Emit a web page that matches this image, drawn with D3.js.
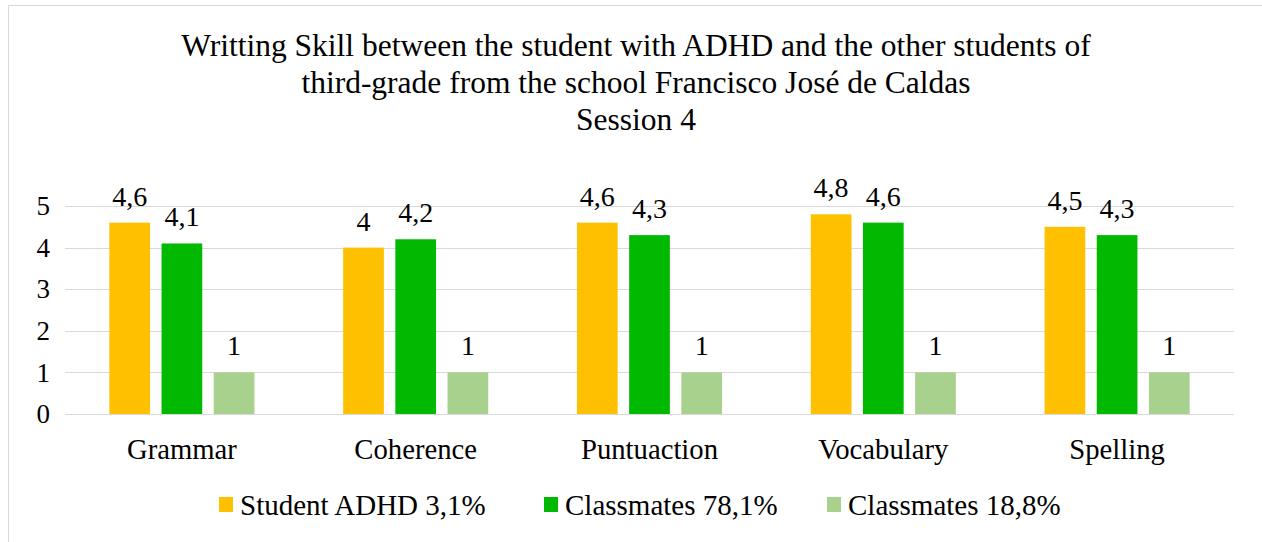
<!DOCTYPE html>
<html>
<head>
<meta charset="utf-8">
<script src="https://cdn.jsdelivr.net/npm/d3@7"></script>
<style>
  html, body { margin: 0; padding: 0; background: #fff; }
  svg { display: block; }
</style>
</head>
<body>
<svg id="chart" width="1262" height="542"></svg>
<script>
const titleLines = [
  "Writting Skill between the student with ADHD and the other students of",
  "third-grade from the school Francisco José de Caldas",
  "Session 4"
];
const categories = ["Grammar", "Coherence", "Puntuaction", "Vocabulary", "Spelling"];
const seriesNames = ["Student ADHD 3,1%", "Classmates 78,1%", "Classmates 18,8%"];
const seriesColors = ["#FFC000", "#00B900", "#A9D18E"];
const studentADHD = [4.6, 4, 4.6, 4.8, 4.5];
const classmates781 = [4.1, 4.2, 4.3, 4.6, 4.3];
const classmates188 = [1, 1, 1, 1, 1];
const yTicks = [0, 1, 2, 3, 4, 5];

const series = [studentADHD, classmates781, classmates188];
const fmt = v => String(v).replace(".", ",");
const FONT = '"Liberation Serif"';

const svg = d3.select("#chart");

// chart border
svg.append("rect").attr("x", 8.5).attr("y", 5.5).attr("width", 1400).attr("height", 700)
  .attr("fill", "none").attr("stroke", "#d9d9d9").attr("stroke-width", 1);

// title
svg.append("g").selectAll("text").data(titleLines).join("text")
  .attr("x", 636).attr("y", (d, i) => 56 + i * 37)
  .attr("text-anchor", "middle").attr("font-size", 31.5).style("font-family", FONT).attr("fill", "#000")
  .text(d => d);

const x0 = d3.scaleBand().domain(categories).range([65, 1234]).padding(0);
const x1 = d3.scaleBand().domain(d3.range(series.length)).range([0, x0.bandwidth()])
  .paddingInner(0.22).paddingOuter(0.85);
const y = d3.scaleLinear().domain([0, 5]).range([414, 206]);

// gridlines
svg.append("g").selectAll("line").data(yTicks).join("line")
  .attr("x1", 65).attr("x2", 1234)
  .attr("y1", d => Math.round(y(d)) + 0.5).attr("y2", d => Math.round(y(d)) + 0.5)
  .attr("stroke", "#d9d9d9").attr("stroke-width", 1);

// y axis labels
const yAxis = d3.axisLeft(y).tickValues(yTicks).tickSize(0).tickPadding(15).tickFormat(d => d);
const yg = svg.append("g").attr("transform", "translate(65,0)").call(yAxis);
yg.attr("font-family", null);
yg.select(".domain").remove();
yg.selectAll("text").attr("font-size", 27).style("font-family", FONT).attr("fill", "#000");

// bars
const groups = svg.append("g").selectAll("g").data(categories).join("g")
  .attr("transform", d => `translate(${x0(d)},0)`);
groups.selectAll("rect").data((c, ci) => series.map((s, si) => ({ si, v: s[ci] }))).join("rect")
  .attr("x", d => x1(d.si)).attr("width", x1.bandwidth())
  .attr("y", d => y(d.v)).attr("height", d => y(0) - y(d.v))
  .attr("fill", d => seriesColors[d.si]);
groups.selectAll("text.lbl").data((c, ci) => series.map((s, si) => ({ si, v: s[ci] }))).join("text")
  .attr("class", "lbl")
  .attr("x", d => x1(d.si) + x1.bandwidth() / 2).attr("y", d => y(d.v) - 17)
  .attr("text-anchor", "middle").attr("font-size", 28).style("font-family", FONT).attr("fill", "#000")
  .text(d => fmt(d.v));

// x axis labels
const xAxis = d3.axisBottom(x0).tickSize(0).tickPadding(0);
const xg = svg.append("g").attr("transform", "translate(0,414)").call(xAxis);
xg.attr("font-family", null);
xg.select(".domain").remove();
xg.selectAll("text").attr("font-size", 28.7).style("font-family", FONT).attr("fill", "#000")
  .attr("dy", null).attr("y", 45);

// legend
const legendX = [219, 544, 827];
const lg = svg.append("g").selectAll("g").data(seriesNames).join("g")
  .attr("transform", (d, i) => `translate(${legendX[i]},0)`);
lg.append("rect").attr("x", 0).attr("y", 497).attr("width", 14).attr("height", 15)
  .attr("fill", (d, i) => seriesColors[i]);
lg.append("text").attr("x", 21).attr("y", 515).attr("font-size", 29).style("font-family", FONT).attr("fill", "#000")
  .text(d => d);
</script>
</body>
</html>
